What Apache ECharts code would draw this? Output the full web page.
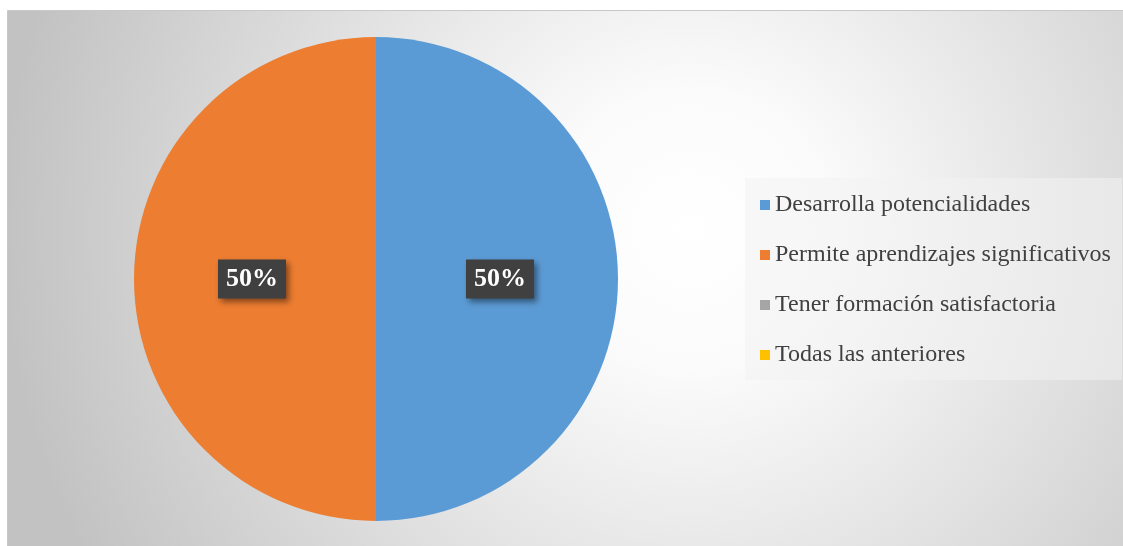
<!DOCTYPE html>
<html>
<head>
<meta charset="utf-8">
<script src="https://cdn.jsdelivr.net/npm/echarts@6/dist/echarts.min.js"></script>
<style>
  html, body { margin: 0; padding: 0; background: #fff; }
  #chart { width: 1123px; height: 546px; }
</style>
</head>
<body>
<div id="chart"></div>
<script>
// data
const categories = [
  "Desarrolla potencialidades",
  "Permite aprendizajes significativos",
  "Tener formación satisfactoria",
  "Todas las anteriores"
];
const values = [50, 50, 0, 0];
const colors = ["#5B9BD5", "#ED7D31", "#A5A5A5", "#FFC000"];

const serif = "'Liberation Serif', 'DejaVu Serif', serif";
const total = values.reduce((a, b) => a + b, 0);

const chart = echarts.init(document.getElementById("chart"));

const option = {
  animation: false,
  color: colors,
  graphic: [
    {
      type: "rect",
      z: -10,
      silent: true,
      shape: { x: 7.5, y: 10.5, width: 1120, height: 540 },
      style: {
        fill: new echarts.graphic.RadialGradient(690, 230, 690, [
          { offset: 0, color: "#ffffff" },
          { offset: 0.2, color: "#fbfbfb" },
          { offset: 1, color: "#c2c2c2" }
        ], true),
        stroke: "#c8c8c8",
        lineWidth: 1
      }
    },
    {
      type: "rect",
      z: -5,
      silent: true,
      shape: { x: 745, y: 178, width: 377, height: 202 },
      style: { fill: "rgba(242,242,242,0.55)" }
    }
  ],
  legend: {
    orient: "vertical",
    left: 755,
    top: 188,
    icon: "rect",
    itemWidth: 10,
    itemHeight: 10,
    itemGap: 26,
    data: categories,
    textStyle: {
      fontFamily: serif,
      fontSize: 24,
      lineHeight: 24,
      color: "#404040"
    }
  },
  series: [
    {
      type: "pie",
      center: [376, 279],
      radius: [0, 242],
      startAngle: 90,
      clockwise: true,
      avoidLabelOverlap: false,
      silent: true,
      itemStyle: { borderWidth: 0 },
      label: {
        position: "inside",
        formatter: (p) => Math.round(p.value / total * 100) + "%",
        fontFamily: serif,
        fontWeight: "bold",
        fontSize: 26,
        color: "#ffffff",
        backgroundColor: "#404040",
        padding: [8, 8, 5, 8],
        shadowColor: "rgba(0,0,0,0.45)",
        shadowBlur: 6,
        shadowOffsetX: 3,
        shadowOffsetY: 3
      },
      labelLine: { show: false },
      data: categories.map((name, i) => ({
        name: name,
        value: values[i],
        label: { show: values[i] > 0 }
      }))
    }
  ]
};

chart.setOption(option);
</script>
</body>
</html>
